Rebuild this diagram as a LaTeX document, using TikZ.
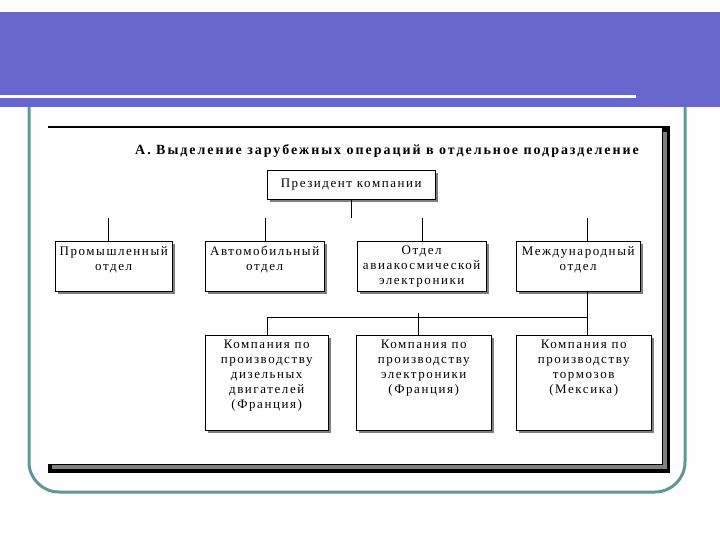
\documentclass[tikz,border=0pt]{standalone}
\usepackage{fontspec}
\setmainfont{Liberation Serif}[LetterSpace=12]
\usetikzlibrary{positioning, shadows}

\definecolor{bannerblue}{RGB}{102,102,204}
\definecolor{frameteal}{RGB}{98,150,150}

% text hung from the top of a box of fixed size
\newcommand{\boxtext}[3]{\parbox[c][#2][t]{#1}{\centering\vspace{5pt}#3}}

\begin{document}
\begin{tikzpicture}[x=1pt, y=-1pt,
  orgbox/.style={draw=black, fill=white, thin, inner sep=0pt, anchor=north west,
    drop shadow={shadow xshift=3pt, shadow yshift=-3pt, fill=gray, opacity=1},
    font=\fontsize{13}{15}\selectfont},
  link/.style={draw=black, thin}]
\useasboundingbox (0,0) rectangle (720,540);

% slide frame and banner
\draw[frameteal, line width=3pt, rounded corners=30pt] (29,60) rectangle (685,492);
\fill[bannerblue] (0,12) rectangle (720,107);
\fill[white] (0,95) rectangle (636,98);

% picture frame
\draw[line width=1.5pt] (48,127) -- (670,127);
\fill[black] (662,127) rectangle (670,473);
\fill[black] (48,464) rectangle (670,473);
\fill[gray] (663,132) rectangle (667,469);
\fill[gray] (52,465) rectangle (667,469);

\node[font=\fontsize{14}{15}\selectfont\bfseries\addfontfeature{LetterSpace=14}] (title) at (387,151)
  {А. Выделение зарубежных операций в отдельное подразделение};

\node[orgbox, minimum width=168pt, minimum height=29pt] (pres) at (267,170) {Президент компании};

\node[orgbox] (ind) at (55,241) {\boxtext{117pt}{50pt}{Промышленный\\отдел}};
\node[orgbox] (auto) at (205,241) {\boxtext{119pt}{50pt}{Автомобильный\\отдел}};
\node[orgbox] (aero) at (357,241) {\boxtext{129pt}{50pt}{Отдел\\авиакосмической\\электроники}};
\node[orgbox] (intl) at (516,241) {\boxtext{124pt}{50pt}{Международный\\отдел}};

\node[orgbox] (diesel) at (205,335) {\boxtext{123pt}{95pt}{Компания по\\производству\\дизельных\\двигателей\\(Франция)}};
\node[orgbox] (elec) at (356,335) {\boxtext{135pt}{95pt}{Компания по\\производству\\электроники\\(Франция)}};
\node[orgbox] (brake) at (516,335) {\boxtext{135pt}{95pt}{Компания по\\производству\\тормозов\\(Мексика)}};

\coordinate (top) at (357,218);
\coordinate (bus) at (0,317);

\draw[link] (pres.south) -- (pres.south |- top);
\draw[link] ([xshift=-6pt]ind.north) -- ([xshift=-6pt]ind.north |- top);
\draw[link] (auto.north) -- (auto.north |- top);
\draw[link] (aero.north) -- (aero.north |- top);
\draw[link] ([xshift=9pt]intl.north) -- ([xshift=9pt]intl.north |- top);

\draw[link] ([xshift=9pt]intl.south) -- ([xshift=9pt]intl.south |- brake.north);
\draw[link] (diesel.north) |- ([xshift=9pt]intl.south |- bus);
\draw[link] ([xshift=-6pt]elec.north) -- ([xshift=-6pt,yshift=4pt]elec.north |- bus);
\end{tikzpicture}
\end{document}
